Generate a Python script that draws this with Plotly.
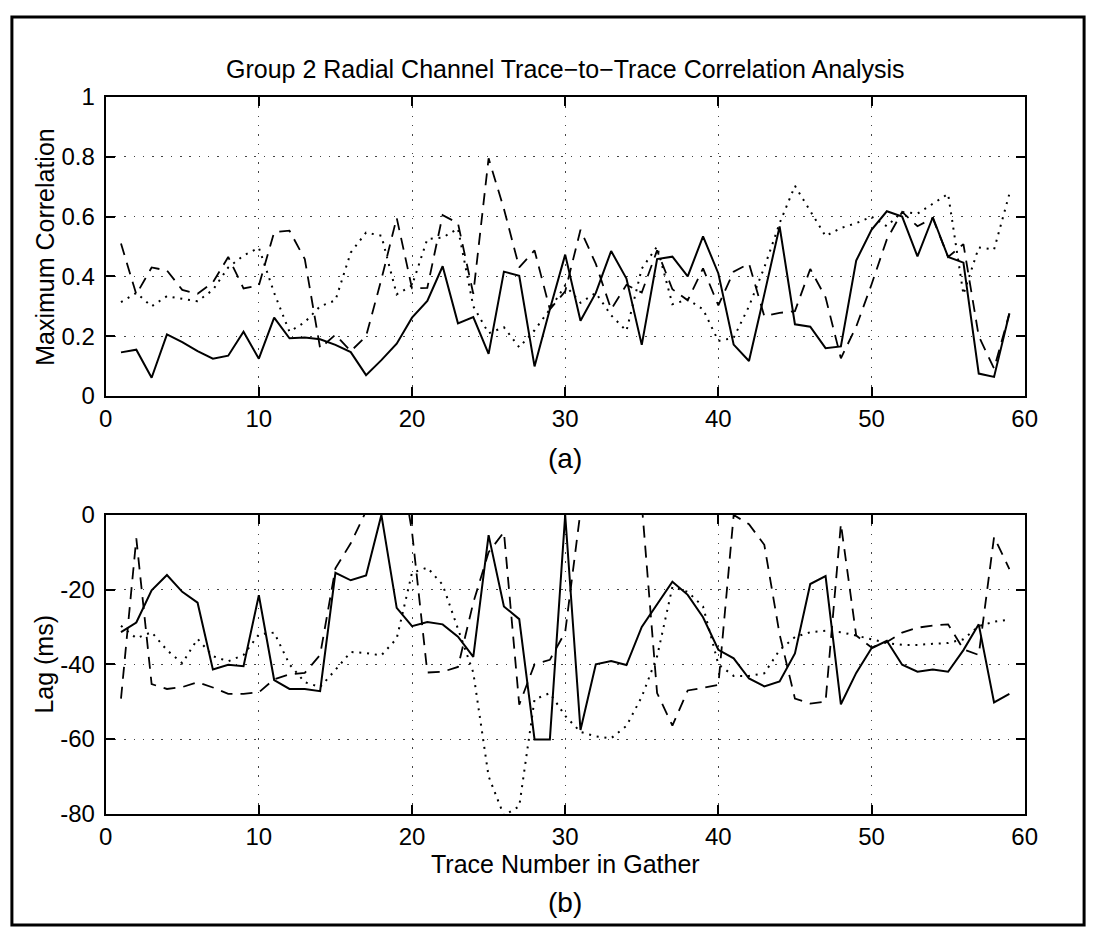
import plotly.graph_objects as go

# ---------------- data ----------------
trace_no = list(range(1, 60))

corr_solid = [0.146, 0.155, 0.061, 0.206, 0.18, 0.15, 0.125, 0.135, 0.215, 0.125,
              0.262, 0.193, 0.196, 0.19, 0.171, 0.147, 0.07, 0.12, 0.175, 0.262,
              0.318, 0.434, 0.243, 0.264, 0.141, 0.416, 0.402, 0.099, 0.29, 0.473,
              0.252, 0.345, 0.485, 0.393, 0.171, 0.458, 0.466, 0.40, 0.534, 0.41,
              0.172, 0.117, 0.34, 0.567, 0.24, 0.232, 0.16, 0.166, 0.453, 0.556,
              0.618, 0.60, 0.467, 0.598, 0.465, 0.446, 0.075, 0.064, 0.276]

corr_dashed = [0.51, 0.34, 0.43, 0.42, 0.355, 0.342, 0.38, 0.465, 0.36, 0.37,
               0.548, 0.553, 0.458, 0.16, 0.205, 0.15, 0.2, 0.39, 0.596, 0.36,
               0.362, 0.605, 0.578, 0.342, 0.795, 0.626, 0.43, 0.487, 0.29, 0.35,
               0.556, 0.442, 0.29, 0.372, 0.346, 0.487, 0.357, 0.32, 0.427, 0.303,
               0.416, 0.443, 0.267, 0.278, 0.284, 0.425, 0.33, 0.126, 0.232, 0.373,
               0.524, 0.616, 0.568, 0.595, 0.465, 0.508, 0.2, 0.092, 0.276]

corr_dotted = [0.314, 0.345, 0.30, 0.334, 0.325, 0.317, 0.355, 0.43, 0.47, 0.496,
               0.345, 0.215, 0.247, 0.30, 0.32, 0.48, 0.547, 0.536, 0.34, 0.37,
               0.525, 0.53, 0.56, 0.30, 0.21, 0.23, 0.163, 0.22, 0.29, 0.37,
               0.312, 0.345, 0.27, 0.218, 0.426, 0.50, 0.307, 0.323, 0.29, 0.184,
               0.195, 0.30, 0.43, 0.578, 0.703, 0.62, 0.535, 0.562, 0.578, 0.60,
               0.568, 0.616, 0.61, 0.643, 0.676, 0.34, 0.497, 0.49, 0.676]

lag_solid = [-31.4, -28.8, -20.2, -16.1, -20.6, -23.5, -41.4, -40.1, -40.5, -21.5,
             -44.2, -46.6, -46.6, -47.2, -15.5, -17.5, -16.2, 0.0, -24.9, -29.8,
             -28.7, -29.3, -32.6, -38.0, -5.4, -24.5, -27.9, -60.1, -60.1, 0.0,
             -57.6, -40.0, -39.1, -40.2, -30.0, -24.0, -17.9, -21.4, -27.4, -36.1,
             -38.4, -43.8, -45.9, -44.6, -37.1, -18.5, -16.4, -50.7, -42.3, -35.7,
             -33.7, -40.1, -42.0, -41.4, -42.0, -36.2, -29.3, -50.2, -47.9]

lag_dashed = [-49.2, -6.3, -45.3, -46.6, -46.1, -44.8, -46.2, -47.9, -47.9, -47.5,
              -44.0, -42.7, -42.3, -37.5, -14.3, -7.6, 1.0, 15.0, 20.0, -4.5,
              -42.2, -42.0, -40.7, -23.5, -10.0, -4.6, -50.8, -40.0, -38.8, -31.4,
              1.0, 10.0, 15.0, 12.0, 3.0, -47.7, -56.4, -47.0, -46.3, -45.5,
              0.0, -2.5, -8.0, -32.0, -49.2, -50.5, -50.0, -2.4, -32.3, -35.5,
              -34.0, -31.5, -30.2, -29.6, -29.3, -36.0, -37.5, -5.9, -14.5]

lag_dotted = [-29.7, -33.0, -31.4, -36.2, -39.7, -33.2, -37.8, -39.2, -37.5, -32.0,
              -31.5, -40.0, -44.8, -46.1, -41.5, -36.7, -37.0, -37.6, -33.1, -15.5,
              -14.1, -18.7, -30.5, -42.2, -70.0, -80.5, -78.0, -49.4, -47.7, -53.8,
              -58.1, -59.3, -59.8, -56.5, -48.7, -37.9, -19.3, -20.6, -24.5, -40.0,
              -43.1, -43.1, -42.4, -36.2, -32.7, -31.4, -31.0, -31.4, -32.3, -33.3,
              -34.3, -34.8, -34.8, -34.5, -34.3, -33.3, -29.8, -28.6, -28.0]

x_ticks = [0, 10, 20, 30, 40, 50, 60]
x_ticktext = ["0", "10", "20", "30", "40", "50", "60"]
corr_ticks = [0, 0.2, 0.4, 0.6, 0.8, 1]
corr_ticktext = ["0", "0.2", "0.4", "0.6", "0.8", "1"]
lag_ticks = [-80, -60, -40, -20, 0]
lag_ticktext = ["-80", "-60", "-40", "-20", "0"]

title_text = "Group 2 Radial Channel Trace\u2212to\u2212Trace Correlation Analysis"

# ---------------- figure ----------------
W, H = 1102, 942
FONT = "Liberation Sans, Arial, Helvetica, sans-serif"

fig = go.Figure()

styles = [
    ("solid", 2.0),
    ("12px,8px", 1.8),
    ("2px,5.8px", 2.0),
]

for series, (dash, w) in zip([corr_solid, corr_dashed, corr_dotted], styles):
    fig.add_trace(go.Scatter(x=trace_no, y=series, mode="lines", xaxis="x", yaxis="y",
                             line=dict(color="black", width=w, dash=dash),
                             hoverinfo="skip"))

for series, (dash, w) in zip([lag_solid, lag_dashed, lag_dotted], styles):
    fig.add_trace(go.Scatter(x=trace_no, y=series, mode="lines", xaxis="x2", yaxis="y2",
                             line=dict(color="black", width=w, dash=dash),
                             hoverinfo="skip"))

x0, x1 = 100.5 / W, 1036.5 / W
top_dom = [(H - 393.3) / H, (H - 85.5) / H]
bot_dom = [(H - 823.3) / H, (H - 515.7) / H]

axis_common = dict(
    showline=True, linecolor="black", linewidth=2, mirror="ticks",
    ticks="inside", ticklen=9, tickwidth=1.5, tickcolor="black",
    showgrid=True, gridcolor="#444444", gridwidth=1, griddash="1.5px,7.8px",
    zeroline=False, tickfont=dict(family=FONT, size=24, color="black"),
    layer="above traces",
)

fig.update_layout(
    width=W, height=H,
    margin=dict(l=0, r=0, t=0, b=0),
    paper_bgcolor="white", plot_bgcolor="white",
    showlegend=False,
    xaxis=dict(domain=[x0, x1], range=[0, 60], anchor="y",
               tickvals=x_ticks, ticktext=x_ticktext, **axis_common),
    yaxis=dict(domain=top_dom, range=[0, 1], anchor="x", ticklabelstandoff=4,
               tickvals=corr_ticks, ticktext=corr_ticktext, **axis_common),
    xaxis2=dict(domain=[x0, x1], range=[0, 60], anchor="y2",
                tickvals=x_ticks, ticktext=x_ticktext, **axis_common),
    yaxis2=dict(domain=bot_dom, range=[-80, 0], anchor="x2", ticklabelstandoff=4,
                tickvals=lag_ticks, ticktext=lag_ticktext, **axis_common),
)

def ann(text, xpx, ypx, size, angle=0):
    fig.add_annotation(text=text, xref="paper", yref="paper",
                       x=xpx / W, y=(H - ypx) / H, xanchor="center", yanchor="middle",
                       showarrow=False, textangle=angle,
                       font=dict(family=FONT, size=size, color="black"))

cx = (100.5 + 1036.5) / 2
ann(title_text, cx, 57, 25)
ann("(a)", cx, 458, 28)
ann("Trace Number in Gather", cx, 875, 25)
ann("(b)", cx, 915, 28)
ann("Maximum Correlation", 38, (85.5 + 393.3) / 2, 25, -90)
ann("Lag (ms)", 38, (515.7 + 823.3) / 2, 25, -90)

# outer frame of the figure
fig.add_shape(type="rect", xref="paper", yref="paper",
              x0=5 / W, x1=1097 / W, y0=(H - 938) / H, y1=(H - 3) / H,
              line=dict(color="black", width=3), fillcolor="rgba(0,0,0,0)", layer="above")

fig.write_html("out.html")
